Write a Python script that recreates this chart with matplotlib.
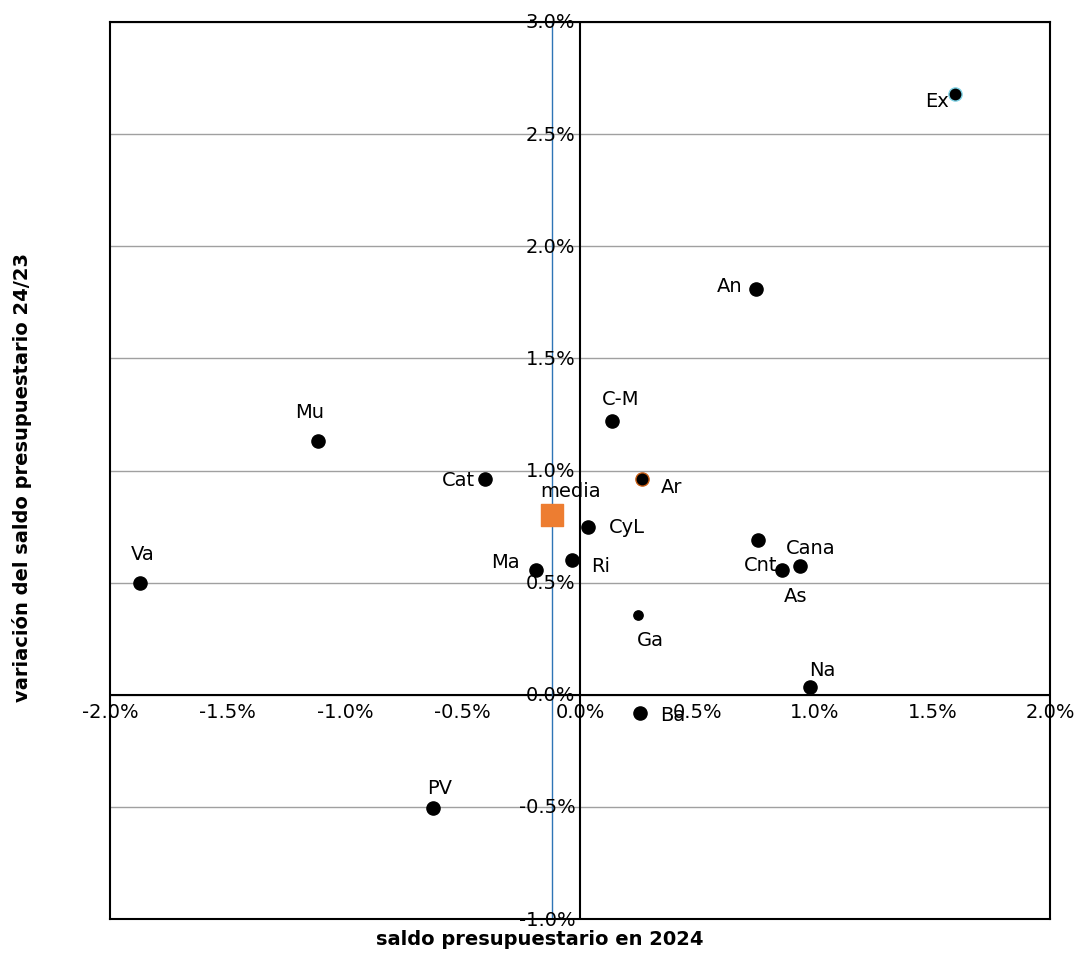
import matplotlib.pyplot as plt
import numpy as np

# comunidades: saldo 2024 (%), variación 24/23 (%)
names = ['Ex', 'An', 'C-M', 'Mu', 'Cat', 'Ar', 'CyL', 'Va', 'Ma', 'Ri',
         'Cnt', 'As', 'Cana', 'Ga', 'Na', 'Ba', 'PV']
saldo = [1.596, 0.75, 0.136, -1.115, -0.404, 0.264, 0.034, -1.872, -0.187, -0.034,
         0.757, 0.86, 0.936, 0.247, 0.979, 0.255, -0.626]
variacion = [2.68, 1.81, 1.22, 1.13, 0.96, 0.96, 0.75, 0.50, 0.556, 0.60,
             0.69, 0.556, 0.574, 0.356, 0.036, -0.08, -0.507]
# label offsets in pixels (dx, dy screen-down)
offsets = [(-18, 7), (-27, -3), (9, -23), (-8, -30), (-27, 0), (29, 7), (39, 0),
           (3, -29), (-31, -9), (29, 5), (3, 24), (13, 25), (11, -19),
           (12, 25), (12, -17), (33, 2), (7, -21)]
media_x, media_y = -0.119, 0.80

xticks = np.arange(-2.0, 2.01, 0.5)
yticks = np.arange(-1.0, 3.01, 0.5)

fig = plt.figure(figsize=(10.8, 9.54), dpi=100)
ax = fig.add_axes([0.1019, 0.0356, 0.8704, 0.9403])
ax.set_xlim(-2, 2)
ax.set_ylim(-1, 3)

for yt in yticks:
    ax.axhline(yt, color='#a0a0a0', lw=1, zorder=0)
ax.axhline(0, color='black', lw=1.5, zorder=1)
ax.axvline(0, color='black', lw=1.5, zorder=1)
ax.axvline(media_x, color='#2e75b6', lw=1, zorder=1)
for s in ax.spines.values():
    s.set_linewidth(1.5)
ax.set_xticks([])
ax.set_yticks([])

for i, (n, x, y) in enumerate(zip(names, saldo, variacion)):
    size = 45 if n == 'Ga' else 90
    ec = 'black'
    if n == 'Ex':
        ec = '#7fd3e6'
    elif n == 'Ar':
        ec = '#c55a11'
    ax.scatter(x, y, s=size, color='black', edgecolors=ec, linewidths=1, zorder=3)
    dx, dy = offsets[i]
    ax.annotate(n, (x, y), xytext=(dx, -dy), textcoords='offset pixels',
                ha='center', va='center', fontsize=14, zorder=4)

ax.scatter(media_x, media_y, s=260, marker='s', color='#ed7d31', zorder=3)
ax.annotate('media', (media_x, media_y), xytext=(18, 25), textcoords='offset pixels',
            ha='center', va='center', fontsize=14)

for xt in xticks:
    ax.text(xt, -0.03, f'{xt:.1f}%', ha='center', va='top', fontsize=14)
for yt in yticks:
    ax.text(-0.02, yt, f'{yt:.1f}%', ha='right', va='center', fontsize=14)

fig.text(0.5, 0.005, 'saldo presupuestario en 2024', ha='center', va='bottom',
         fontsize=14, fontweight='bold')
fig.text(0.02, 0.5, 'variación del saldo presupuestario 24/23', ha='center', va='center',
         rotation=90, fontsize=14, fontweight='bold')

fig.savefig('out.png', dpi=100)
